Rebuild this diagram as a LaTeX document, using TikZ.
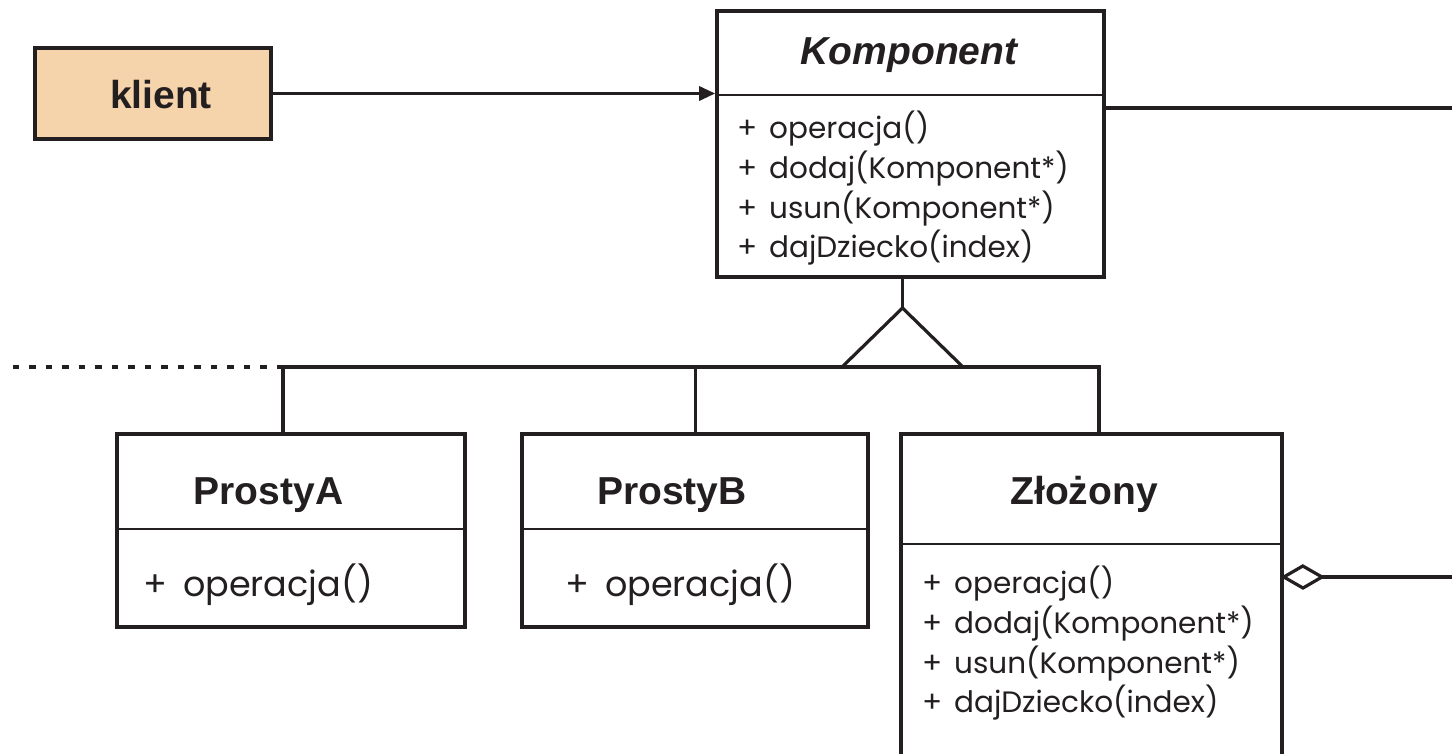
\documentclass[tikz,border=0pt]{standalone}
\usepackage{fontspec}
\setmainfont{Liberation Sans}
\newfontfamily\memfont{Poppins}
\usetikzlibrary{arrows.meta}
\definecolor{ink}{HTML}{231F20}
\definecolor{klientfill}{HTML}{F5D3AB}
% member line: plus sign in a fixed-width slot, then the signature
\newcommand\mbr[2][32pt]{\makebox[#1][l]{+}#2}

\begin{document}
\begin{tikzpicture}[x=1pt,y=-1pt,
  box/.style={draw=ink, line width=3.6pt, rectangle, inner sep=0pt},
  sep/.style={draw=ink, line width=1.5pt},
  conn/.style={draw=ink, line width=3.2pt},
  title/.style={anchor=base, inner sep=0pt, text=ink, font=\fontsize{39}{47}\selectfont\bfseries},
  mem/.style={anchor=base west, inner sep=0pt, text=ink, font=\memfont\fontsize{29.5}{38}\selectfont},
  memL/.style={anchor=base west, inner sep=0pt, text=ink, font=\memfont\fontsize{35}{44}\selectfont}]

\useasboundingbox (0,0) rectangle (1452,753);
\clip (0,0) rectangle (1452,753);

% class boxes
\node[box, fill=klientfill, minimum width=236pt, minimum height=91pt] (klient) at (153,93.5) {};
\node[box, minimum width=387pt, minimum height=266pt] (komp) at (910.5,144) {};
\node[box, minimum width=348pt, minimum height=193pt] (pa) at (291,530.5) {};
\node[box, minimum width=346pt, minimum height=193pt] (pb) at (695,530.5) {};
\node[box, minimum width=381pt, minimum height=420pt] (zl) at (1091.5,644) {};

% compartment separators
\draw[sep] ([yshift=-86pt]komp.north west) -- ([yshift=-86pt]komp.north east);
\draw[sep] ([yshift=-97pt]pa.north west) -- ([yshift=-97pt]pa.north east);
\draw[sep] ([yshift=-97pt]pb.north west) -- ([yshift=-97pt]pb.north east);
\draw[sep] ([yshift=-112pt]zl.north west) -- ([yshift=-112pt]zl.north east);

% names
\node[title] (tKlient) at (161,108) {klient};
\node[title, font=\fontsize{39}{47}\selectfont\bfseries\itshape] (tKomp) at (909,64) {Komponent};
\node[title] (tPa) at (268.5,504) {ProstyA};
\node[title] (tPb) at (672,504) {ProstyB};
\node[title] (tZl) at (1084,504) {Złożony};

% operations
\node[mem] (k1) at (737,138) {\mbr{operacja()}};
\node[mem] (k2) at (737,178) {\mbr{dodaj(Komponent*)}};
\node[mem] (k3) at (737,218) {\mbr{usun(Komponent*)}};
\node[mem] (k4) at (737,257) {\mbr{dajDziecko(index)}};

\node[memL] (a1) at (143,596) {\mbr[40pt]{operacja()}};
\node[memL] (b1) at (565,596) {\mbr[40pt]{operacja()}};

\node[mem] (z1) at (922,593) {\mbr{operacja()}};
\node[mem] (z2) at (922,633) {\mbr{dodaj(Komponent*)}};
\node[mem] (z3) at (922,673) {\mbr{usun(Komponent*)}};
\node[mem] (z4) at (922,712) {\mbr{dajDziecko(index)}};

% association klient -> Komponent
\draw[conn, -{Triangle[length=16pt,width=14pt]}] (klient.east) -- (klient.east -| komp.west);

% outgoing line from Komponent
\coordinate (kr) at (1452,108);
\draw[conn] (kr -| komp.east) -- (kr);

% generalisation
\coordinate (apex) at (902.5,308);
\coordinate (tl) at (842,367);
\coordinate (tr) at (963,367);
\coordinate (busL) at (283,367);
\coordinate (busB) at (695.5,367);
\coordinate (busR) at (1099,367);
\coordinate (dashEnd) at (12,367);
\draw[conn] (komp.south -| apex) -- (apex);
\draw[conn, line join=miter] (apex) -- (tl) -- (tr) -- cycle;
\draw[conn] (pa.north -| busL) -- (busL) -- (busR) -- (zl.north -| busR);
\draw[conn] (busB) -- (pb.north -| busB);
\draw[conn, dash pattern=on 6.5pt off 10pt] (busL) -- (dashEnd);

% aggregation from Złożony
\coordinate (dm) at (1322,577);
\coordinate (aggR) at (1452,577);
\draw[conn, line join=miter] (zl.east |- dm) -- ++(19,-11) -- (dm) -- ++(-19,11) -- cycle;
\draw[conn] (dm) -- (aggR);
\end{tikzpicture}
\end{document}
